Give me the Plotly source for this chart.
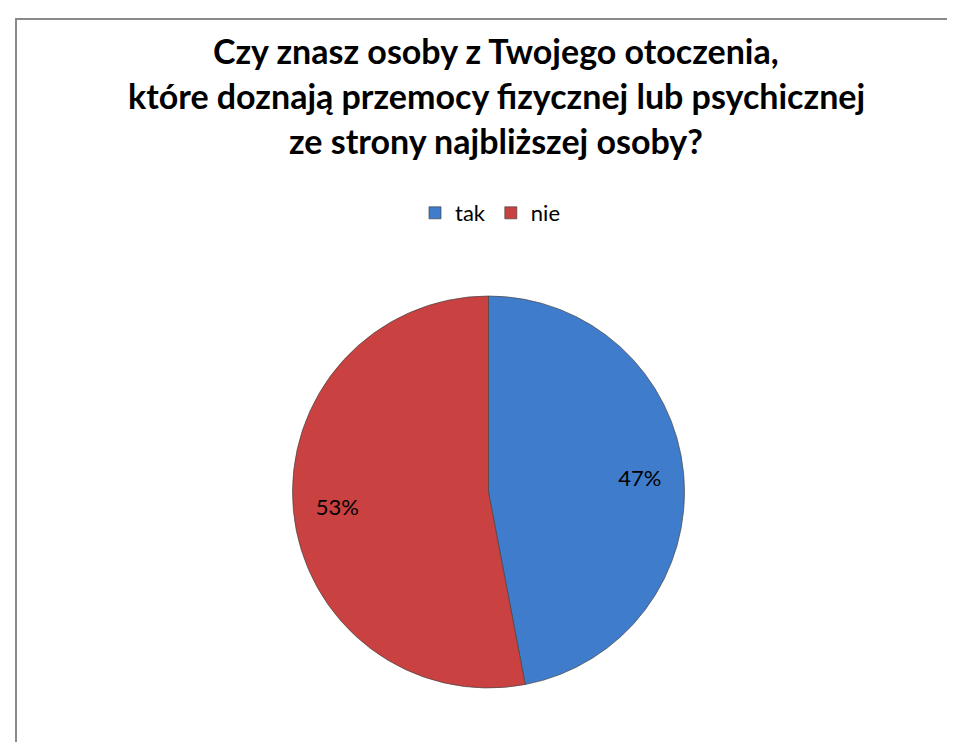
import plotly.graph_objects as go

labels = ["tak", "nie"]
values = [47, 53]
colors = ["#3f7ccb", "#c94140"]
title_lines = [
    "Czy znasz osoby z Twojego otoczenia,",
    "które doznają przemocy fizycznej lub psychicznej",
    "ze strony najbliższej osoby?",
]

W, H = 955, 742
FONT = "Lato, Open Sans, sans-serif"
dom = dict(x=[284 / W, 677 / W], y=[1 - 680 / H, 1 - 288 / H])

fig = go.Figure()
fig.add_trace(go.Pie(
    labels=labels,
    values=values,
    sort=False,
    direction="clockwise",
    rotation=0,
    marker=dict(colors=colors, line=dict(color="rgba(70,70,70,0.7)", width=1)),
    textinfo="none",
    domain=dom,
    hoverinfo="label+percent",
))
# transparent ring overlay used only to place the percent labels further out
fig.add_trace(go.Pie(
    labels=labels,
    values=values,
    sort=False,
    direction="clockwise",
    rotation=0,
    hole=0.55,
    marker=dict(colors=["rgba(0,0,0,0)"] * len(values), line=dict(width=0)),
    texttemplate="%{percent:.0%}",
    textposition="inside",
    insidetextorientation="horizontal",
    textfont=dict(family=FONT, size=22, color="#000000"),
    domain=dom,
    showlegend=False,
    hoverinfo="skip",
))

annotations = [
    dict(text=f"<b>{t}</b>", x=488 / W, y=1 - yc / H, xref="paper", yref="paper",
         xanchor="center", yanchor="middle", showarrow=False,
         font=dict(family=FONT, size=34, color="#000000"))
    for t, yc in zip(title_lines, [43, 88, 133])
]

fig.update_layout(
    width=W,
    height=H,
    margin=dict(l=0, r=0, t=0, b=0),
    paper_bgcolor="white",
    plot_bgcolor="white",
    font=dict(family=FONT, color="#000000"),
    annotations=annotations,
    legend=dict(
        orientation="h",
        x=482 / W,
        xanchor="center",
        y=1 - 184 / H,
        yanchor="top",
        font=dict(size=22, family=FONT),
        itemwidth=30,
        traceorder="normal",
    ),
    shapes=[dict(
        type="rect", xref="paper", yref="paper",
        x0=8 / W, x1=1.02, y0=-0.05, y1=1 - 11 / H,
        line=dict(color="#8a8a8a", width=2),
        fillcolor="rgba(0,0,0,0)",
        layer="below",
    )],
)

fig.write_html("out.html")
